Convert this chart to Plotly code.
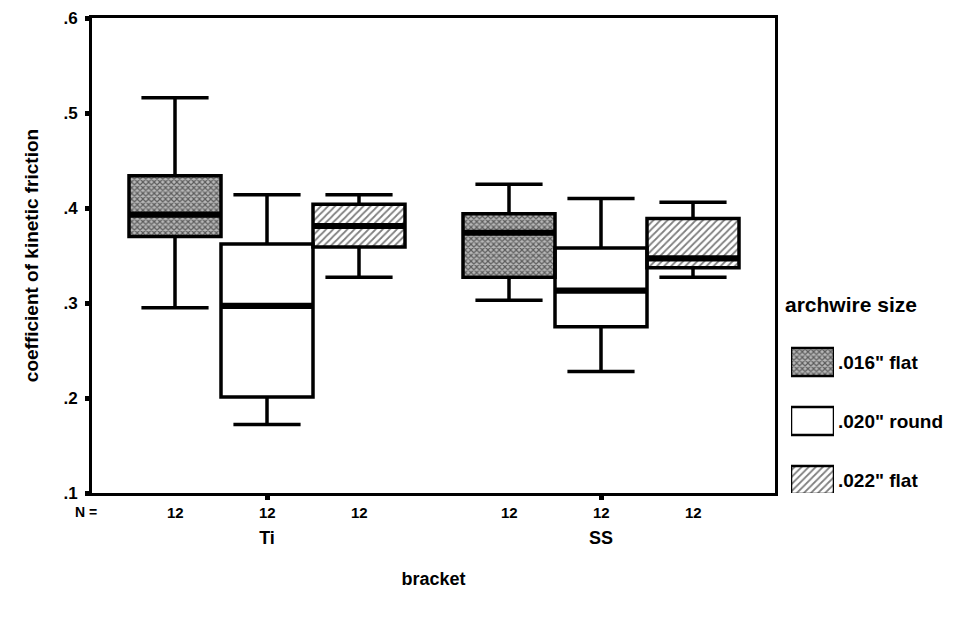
import plotly.graph_objects as go

# ---- data: five-number summaries per archwire size, columns = [Ti, SS]
brackets = ["Ti", "SS"]
wire_sizes = ['.016" flat', '.020" round', '.022" flat']
n_counts = [[12, 12], [12, 12], [12, 12]]

low_whisker = [[0.295, 0.303], [0.172, 0.228], [0.327, 0.327]]
q1 = [[0.370, 0.327], [0.201, 0.275], [0.359, 0.337]]
median = [[0.393, 0.374], [0.297, 0.313], [0.381, 0.347]]
q3 = [[0.434, 0.394], [0.362, 0.358], [0.404, 0.389]]
high_whisker = [[0.516, 0.425], [0.414, 0.410], [0.414, 0.406]]

y_ticks = [0.1, 0.2, 0.3, 0.4, 0.5, 0.6]
y_tick_text = [".1", ".2", ".3", ".4", ".5", ".6"]

# ---- styling
FONT = "Liberation Sans, Arial, sans-serif"
fills = [
    dict(shape="x", size=4, solidity=0.5, fgcolor="black", bgcolor="#b8b8b8"),
    None,
    dict(shape="/", size=5, solidity=0.35, fgcolor="black", bgcolor="white"),
]

# ---- layout geometry (pixels)
W, H = 965, 620
ML, MR, MT, MB = 92, 5, 18, 127
PW, PH = W - ML - MR, H - MT - MB
plot_right = 775
tick_px = [267, 601]
px_per_unit = tick_px[1] - tick_px[0]
x_range = [-(tick_px[0] - ML) / px_per_unit, 1 + (plot_right - tick_px[1]) / px_per_unit]
box_w = 92 / px_per_unit
med_half = 0.0032

fig = go.Figure()

for k, name in enumerate(wire_sizes):
    xs = [g + (k - 1) * box_w for g in range(len(brackets))]
    lo, a, m, b, hi = low_whisker[k], q1[k], median[k], q3[k], high_whisker[k]
    pat = fills[k]
    marker = dict(color="white", line=dict(width=0))
    if pat is not None:
        marker["pattern"] = pat
    # box body fill
    fig.add_trace(go.Bar(
        x=xs, y=[bb - aa for aa, bb in zip(a, b)], base=a, width=box_w,
        marker=marker, showlegend=False, hoverinfo="skip",
    ))
    # heavy median band
    fig.add_trace(go.Bar(
        x=xs, y=[2 * med_half] * len(m), base=[v - med_half for v in m], width=box_w,
        marker=dict(color="black", line=dict(width=0)), showlegend=False, hoverinfo="skip",
    ))
    # outline and whiskers
    fig.add_trace(go.Box(
        x=xs, q1=a, median=m, q3=b, lowerfence=lo, upperfence=hi,
        width=box_w, whiskerwidth=0.73, boxpoints=False,
        line=dict(color="black", width=3.5), fillcolor="rgba(0,0,0,0)",
        name=name, showlegend=False,
    ))

# ---- key on a small auxiliary axis pair at the right
key_vals = [2, 1, 0]
for k, name in enumerate(wire_sizes):
    pat = fills[k]
    marker = dict(color="white", line=dict(width=2.5, color="black"))
    if pat is not None:
        marker["pattern"] = pat
    fig.add_trace(go.Bar(
        x=[1], y=[key_vals[k]], base=0, orientation="h", width=0.475,
        marker=marker, xaxis="x2", yaxis="y2", showlegend=False, hoverinfo="skip",
    ))

key_px_spacing = 59
key_r0 = -(493 - 480) / key_px_spacing
key_range = [key_r0, key_r0 + PH / key_px_spacing]

annotations = []
# N = row
annotations.append(dict(
    x=(86 - ML) / PW, y=-(512 - 493) / PH, xref="paper", yref="paper",
    text="N =", showarrow=False, xanchor="center", yanchor="middle",
    font=dict(family=FONT, size=14, color="black", weight="bold"),
))
for k in range(len(wire_sizes)):
    for g in range(len(brackets)):
        annotations.append(dict(
            x=g + (k - 1) * box_w, y=-(512 - 493) / PH, xref="x", yref="paper",
            text=str(n_counts[k][g]), showarrow=False, xanchor="center", yanchor="middle",
            font=dict(family=FONT, size=15, color="black", weight="bold"),
        ))
annotations.append(dict(
    x=(783 - ML) / PW, y=(493 - 304) / PH, xref="paper", yref="paper",
    text="archwire size", showarrow=False, xanchor="left", yanchor="middle",
    font=dict(family=FONT, size=21, color="black", weight="bold"),
))

fig.update_layout(
    width=W, height=H,
    margin=dict(l=ML, r=MR, t=MT, b=MB),
    paper_bgcolor="white", plot_bgcolor="white",
    barmode="overlay", boxmode="overlay",
    showlegend=False,
    font=dict(family=FONT, color="black"),
    annotations=annotations,
    xaxis=dict(
        domain=[0, (plot_right - ML) / PW], range=x_range,
        tickvals=list(range(len(brackets))), ticktext=brackets,
        ticks="outside", ticklen=4, tickwidth=5, tickcolor="black",
        ticklabelstandoff=22,
        tickfont=dict(family=FONT, size=18, color="black", weight="bold"),
        showline=True, linewidth=3, linecolor="black", mirror=True,
        showgrid=False, zeroline=False,
        title=dict(text="bracket", standoff=26,
                   font=dict(family=FONT, size=18, color="black", weight="bold")),
    ),
    yaxis=dict(
        range=[0.1, 0.6], tickvals=y_ticks, ticktext=y_tick_text,
        ticks="outside", ticklen=4, tickwidth=5, tickcolor="black",
        ticklabelstandoff=4,
        tickfont=dict(family=FONT, size=17, color="black", weight="bold"),
        showline=True, linewidth=3, linecolor="black", mirror=True,
        showgrid=False, zeroline=False,
        title=dict(text="coefficient of kinetic friction", standoff=20,
                   font=dict(family=FONT, size=19, color="black", weight="bold")),
    ),
    xaxis2=dict(
        domain=[(791 - ML) / PW, (834 - ML) / PW], range=[0, 1],
        anchor="y2", visible=False, fixedrange=True,
    ),
    yaxis2=dict(
        domain=[0, 1], range=key_range, anchor="x2", side="right",
        tickvals=key_vals, ticktext=wire_sizes, ticks="",
        showline=False, showgrid=False, zeroline=False, ticklabelstandoff=3,
        tickfont=dict(family=FONT, size=19, color="black", weight="bold"),
    ),
)

fig.write_html("out.html")
